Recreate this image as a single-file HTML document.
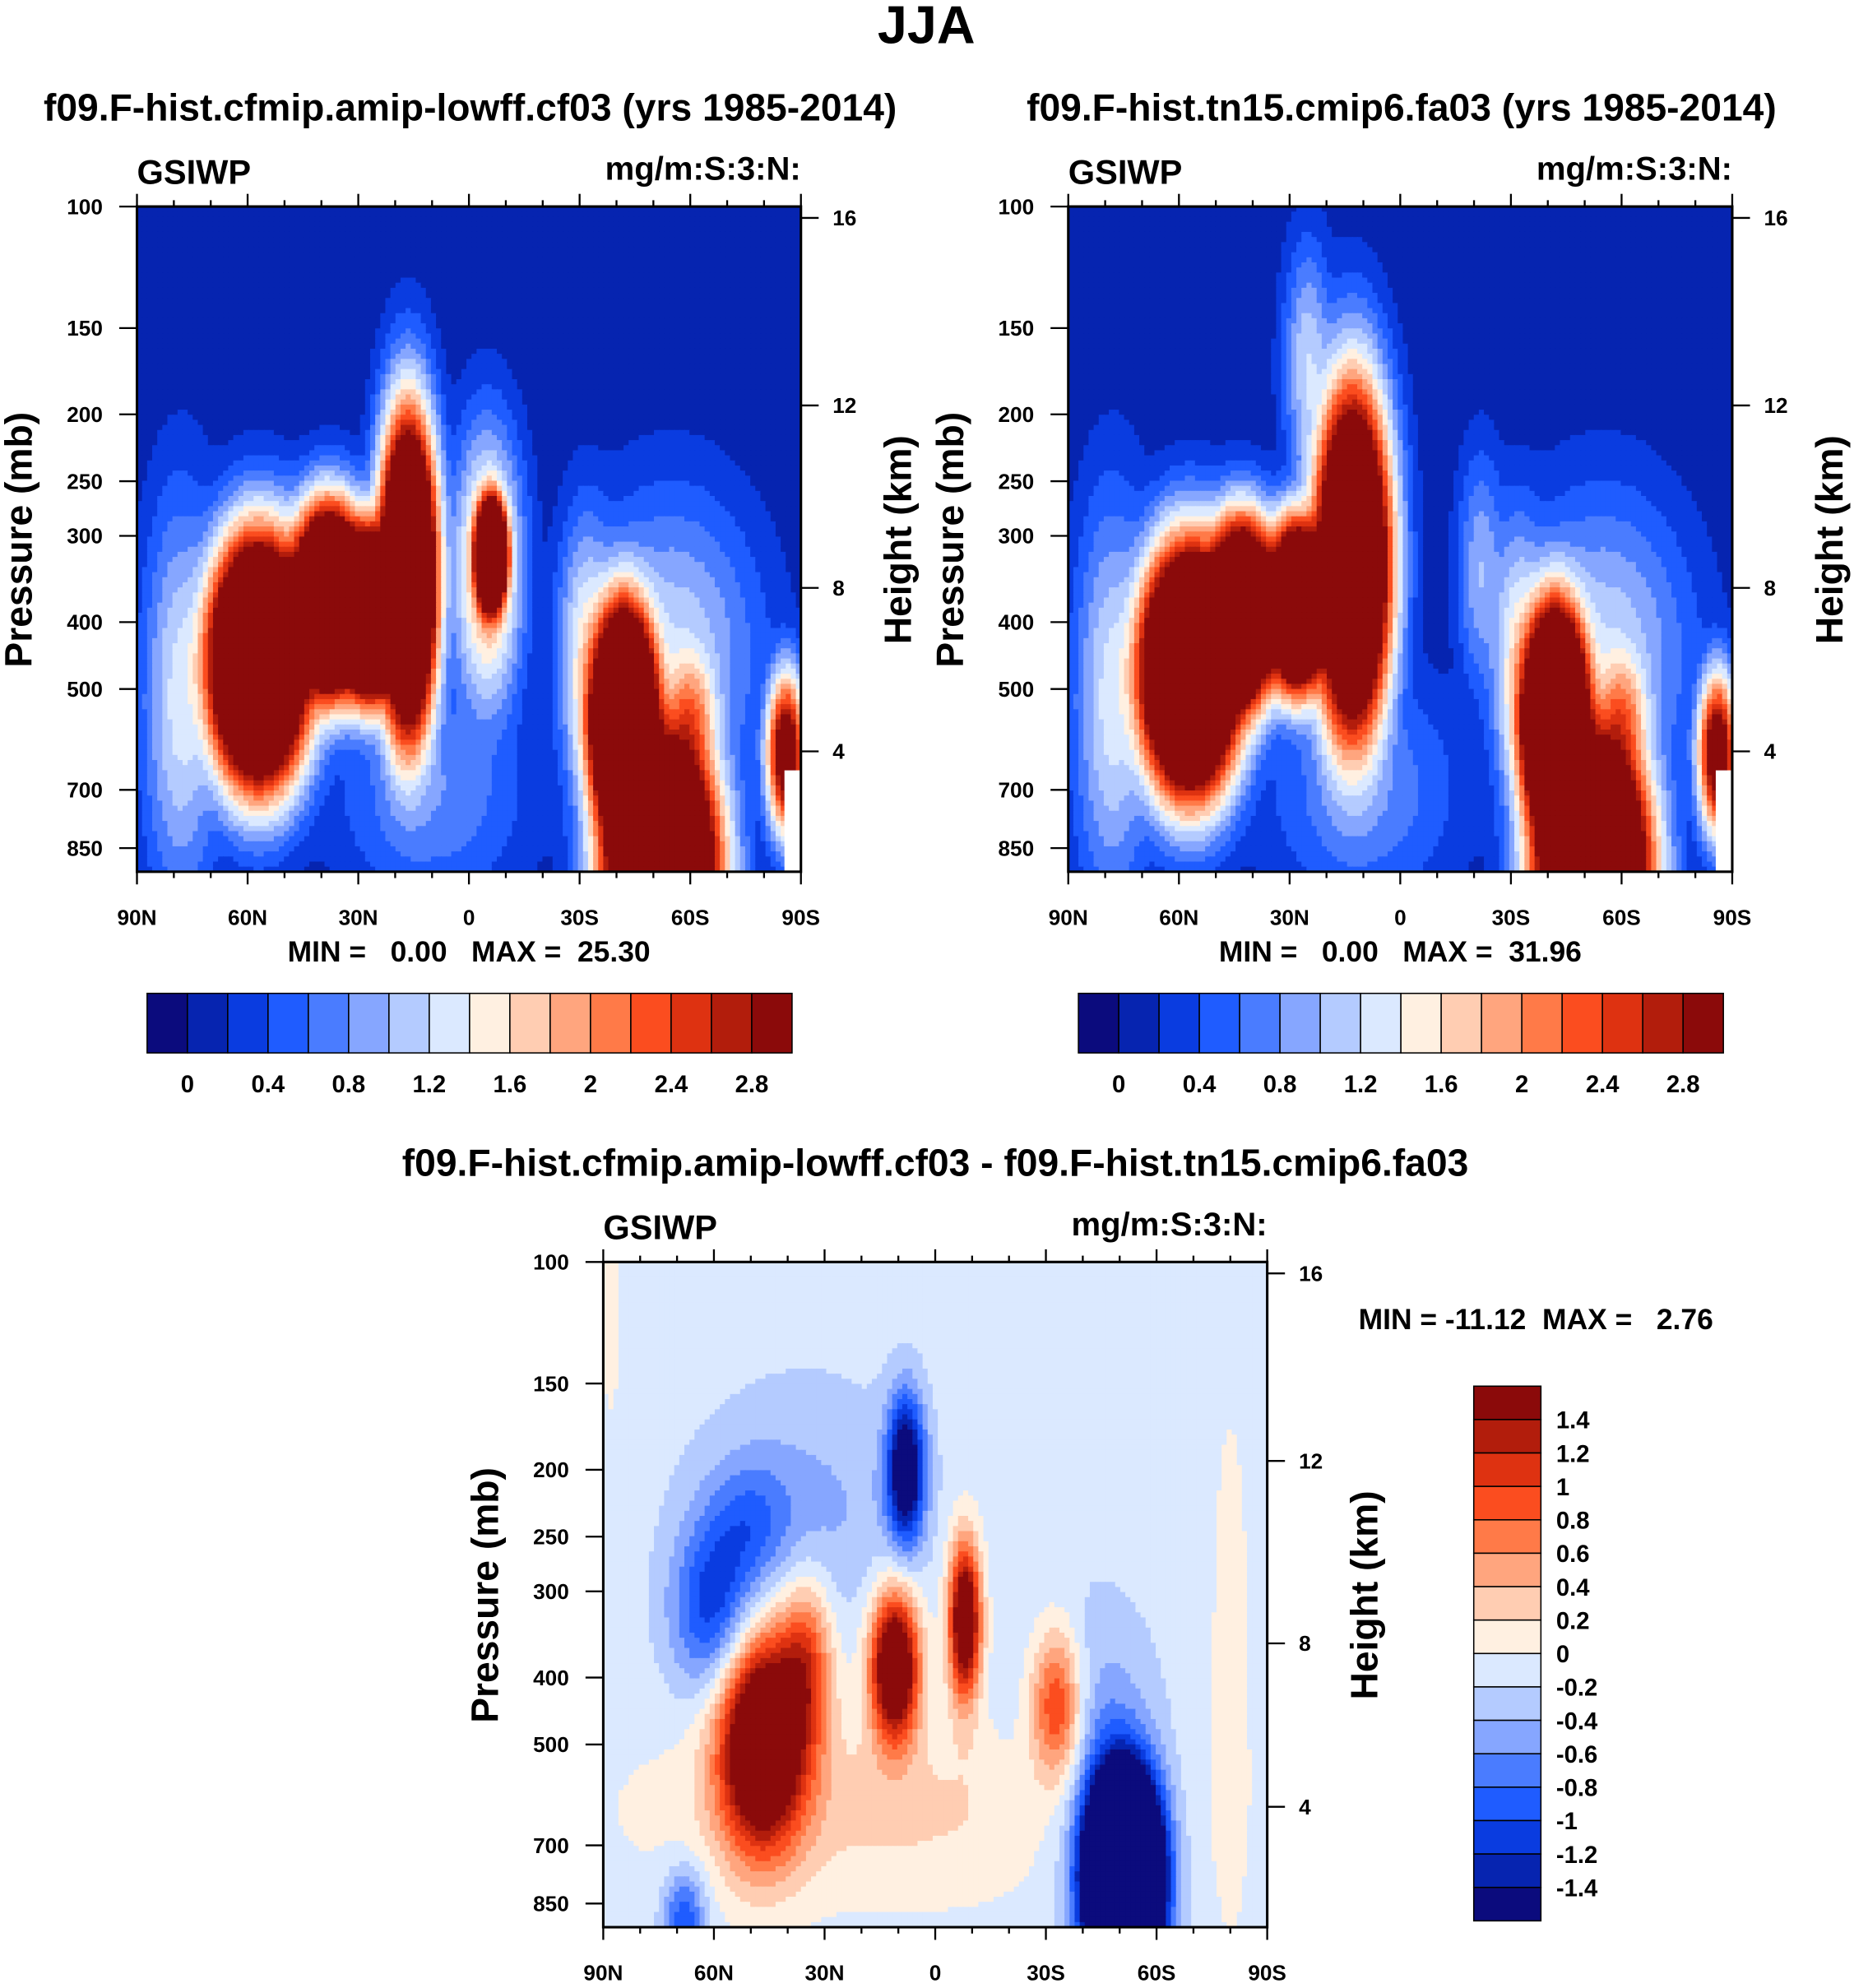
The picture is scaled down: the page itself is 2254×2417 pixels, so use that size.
<!DOCTYPE html>
<html><head><meta charset="utf-8">
<style>
html,body{margin:0;padding:0;background:#fff}
svg{display:block}
text{font-family:"Liberation Sans",Arial,sans-serif;font-weight:bold;fill:#000;white-space:pre}
</style></head>
<body>
<svg id="fig" width="2254" height="2417" viewBox="0 0 1463 1569" xmlns="http://www.w3.org/2000/svg">
<text x="731" y="34" font-size="42" text-anchor="middle">JJA</text>
</svg>
<script>
const svgNS="http://www.w3.org/2000/svg";
const fig=document.getElementById('fig');
const palette=["#0b0b7d","#0624b0","#0a3ce0","#1f5cff","#4a7cff","#86a6ff","#b4cbff","#dbe9ff","#fff0e1","#ffcdb2","#ffa57e","#ff7a48","#fb4d1f","#de3211","#b21d0c","#8b0a0a"];
const pressureTicks=[100,150,200,250,300,400,500,700,850];
const heightTicks=[16,12,8,4];
const heightTickY=[9,157,301,430];
const latTicks=[90,60,30,0,-30,-60,-90];
const latTickLabels=["90N","60N","30N","0","30S","60S","90S"];
const levelsAbs=["0","0.4","0.8","1.2","1.6","2","2.4","2.8"];
const levelsDiff=["1.4","1.2","1","0.8","0.6","0.4","0.2","0","-0.2","-0.4","-0.6","-0.8","-1","-1.2","-1.4"];
// blobs: [lat, pressure, sigmaLat, sigmaLnP, amplitude]
const blobs1=[[57,456,9.6,0.29,7],[38,374,7.4,0.22,7],[27,390,6,0.2,7],[16.5,346,5.6,0.38,6.5],[-6,320,3.2,0.14,7],[-5,340,7,0.35,2],
 [-42,560,6.7,0.28,7],[-52,900,10.7,0.31,7],[-60,560,6,0.2,2.2],[-86,620,4,0.2,3.5],
 [-32,450,6,0.35,1.5],[-55,450,18,0.4,1.2],[78,520,8,0.5,1.3],[10,700,20,0.3,0.8]];
const blobs2=[[57,470,9.6,0.29,7],[43,390,7,0.22,6.5],[28,380,6,0.2,6.5],[13,330,7.4,0.42,6],
 [-42,560,6.7,0.28,7],[-52,900,10.7,0.31,7],[-60,560,6,0.2,2.2],[-86,620,4,0.2,3.5],
 [25,170,5,0.3,1.2],[-22,340,5,0.3,1],[-32,450,6,0.35,1.5],[-55,450,18,0.4,1.2],[78,520,8,0.5,1.3],[10,700,20,0.3,0.8]];
const blobs3=[[47,490,8,0.25,2.6],[35,380,5,0.2,1.0],[11,385,4.5,0.17,2.4],[-8,330,3,0.18,2.2],[-33,440,5,0.18,1.3],
 [15,620,45,0.22,0.35],[-80,400,4,0.7,0.2],[88,110,2,0.3,0.25],
 [60,320,8,0.2,-1.0],[50,240,8,0.15,-0.5],[8,200,3.5,0.17,-1.8],[35,230,20,0.3,-0.35],[-51,780,6.5,0.22,-7],[-42,480,12,0.3,-0.45],[68,900,4,0.12,-0.9]];

function el(tag,attrs,parent){const e=document.createElementNS(svgNS,tag);for(const k in attrs)e.setAttribute(k,attrs[k]);(parent||fig).appendChild(e);return e;}
function txt(s,x,y,size,anchor,parent){const t=el('text',{x:x,y:y,'font-size':size,'text-anchor':anchor||'start'},parent);t.textContent=s;return t;}

function field(blobs,bg,lat,lnp,soft){
 let v=0;
 for(const b of blobs){const dx=(lat-b[0])/b[2],dy=(lnp-Math.log(b[1]))/b[3];const f=b[4]*Math.exp(-0.5*(dx*dx+dy*dy));
  if(soft)v+=Math.pow(f,3);else v+=f;}
 return soft?Math.max(bg,Math.cbrt(v)):bg+v;
}

function panel(X,Y,blobs,bg,diff,name){
 const W=524,H=525;
 const xOf=lat=>X+(90-lat)*W/180;
 const yOf=p=>Y+236.6*Math.log(p/100);
 const g=el('g',{},fig);
 
 
 const nx=131,ny=131,cw=W/nx,ch=H/ny;
 for(let j=0;j<ny;j++){
  const yc=Y+(j+0.5)*ch;const lnp=Math.log(100)+(yc-Y)/236.6;
  for(let i=0;i<nx;i++){
   const xc=X+(i+0.5)*cw;const lat=90-(xc-X)*180/W;
   const v=field(blobs,bg,lat,lnp,!diff);
   let idx=diff?Math.floor((v+1.4)/0.2)+1:(v<0?0:Math.floor(v/0.2)+1);
   idx=Math.max(0,Math.min(15,idx));
   const r=el('rect',{x:(X+i*cw).toFixed(2),y:(Y+j*ch).toFixed(2),width:(cw+0.6).toFixed(2),height:(ch+0.6).toFixed(2),fill:palette[idx]},g);
   
   
  }
 }
 if(!diff){const w=el('rect',{x:X+W-13,y:Y+H-80,width:13,height:80,fill:'#fff'},g);}
 const fr=el('rect',{x:X,y:Y,width:W,height:H,fill:'none',stroke:'#000','stroke-width':2});
 
 for(let lat=-90;lat<=90;lat+=10){const x=xOf(lat);const major=lat%30===0;const L=major?10:5;
  el('line',{x1:x,y1:Y,x2:x,y2:Y-L,stroke:'#000','stroke-width':1.5});
  el('line',{x1:x,y1:Y+H,x2:x,y2:Y+H+L,stroke:'#000','stroke-width':1.5});}
 latTicks.forEach((lat,k)=>{const t=txt(latTickLabels[k],xOf(lat),Y+H+42,17,'middle');});
 pressureTicks.forEach(p=>{const y=yOf(p);el('line',{x1:X,y1:y,x2:X-14,y2:y,stroke:'#000','stroke-width':1.5});
  const t=txt(String(p),X-27,y+6,17,'end');});
 heightTicks.forEach((h,k)=>{const y=Y+heightTickY[k];el('line',{x1:X+W,y1:y,x2:X+W+14,y2:y,stroke:'#000','stroke-width':1.5});
  const t=txt(String(h),X+W+25,y+6,17,'start');});
 let t=txt('GSIWP',X,Y-18,27,'start');
 t=txt('mg/m:S:3:N:',X+W,Y-21,26,'end');
 t=txt('Pressure (mb)',0,0,30,'middle');t.setAttribute('transform',`translate(${X-83},${Y+263}) rotate(-90)`);
 t=txt('Height (km)',0,0,30,'middle');t.setAttribute('transform',`translate(${X+W+87},${Y+263}) rotate(-90)`);
}

function hbar(X,Y,name){
 const bw=509/16;const g=el('g',{},fig);
 
 palette.forEach((c,i)=>{const r=el('rect',{x:X+i*bw,y:Y,width:bw,height:47,fill:c,stroke:'#000','stroke-width':1},g);});
 levelsAbs.forEach((s,k)=>{const t=txt(s,X+(1+2*k)*bw,Y+78,19,'middle',g);});
}

let t=txt('f09.F-hist.cfmip.amip-lowff.cf03 (yrs 1985-2014)',371,95,30,'middle');
t=txt('f09.F-hist.tn15.cmip6.fa03 (yrs 1985-2014)',1106,95,30,'middle');
panel(108,163,blobs1,0.1,false,'panel1-contours');
panel(843,163,blobs2,0.1,false,'panel2-contours');
t=txt('MIN =   0.00   MAX =  25.30',370,759,23,'middle');
t=txt('MIN =   0.00   MAX =  31.96',1105,759,23,'middle');
hbar(116,784,'panel1-colorbar');
hbar(851,784,'panel2-colorbar');
t=txt('f09.F-hist.cfmip.amip-lowff.cf03 - f09.F-hist.tn15.cmip6.fa03',738,928,30,'middle');
panel(476,996,blobs3,-0.1,true,'panel3-contours');
t=txt('MIN = -11.12  MAX =   2.76',1212,1049,23,'middle');
(function(){const X=1163,Y=1094,bh=422/16;const g=el('g',{},fig);
 
 for(let i=0;i<16;i++){const r=el('rect',{x:X,y:Y+i*bh,width:53,height:bh,fill:palette[15-i],stroke:'#000','stroke-width':1},g);}
 levelsDiff.forEach((s,k)=>{const t=txt(s,1228,Y+(k+1)*bh+7,19,'start',g);});
})();
</script>
</body></html>
